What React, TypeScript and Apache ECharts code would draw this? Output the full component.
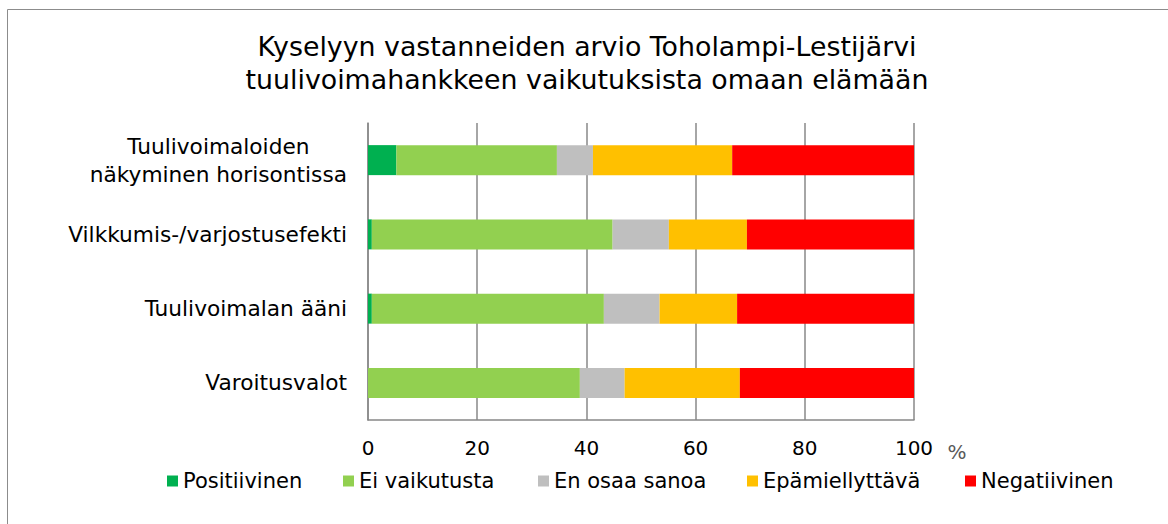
import React, { useEffect, useRef } from "react";
import * as echarts from "echarts";

const categories = [
  "Tuulivoimaloiden\nnäkyminen horisontissa",
  "Vilkkumis-/varjostusefekti",
  "Tuulivoimalan ääni",
  "Varoitusvalot",
];
const seriesNames = ["Positiivinen", "Ei vaikutusta", "En osaa sanoa", "Epämiellyttävä", "Negatiivinen"];
const positiivinen = [5.2, 0.7, 0.7, 0];
const eiVaikutusta = [29.4, 44.1, 42.5, 38.8];
const enOsaaSanoa = [6.6, 10.3, 10.2, 8.2];
const epamiellyttava = [25.5, 14.3, 14.2, 21.1];
const negatiivinen = [33.3, 30.6, 32.4, 31.9];
const xTicks = [0, 20, 40, 60, 80, 100];

const seriesValues = [positiivinen, eiVaikutusta, enOsaaSanoa, epamiellyttava, negatiivinen];
const colors = ["#00B050", "#92D050", "#BFBFBF", "#FFC000", "#FF0000"];
const legendLefts = [167, 343, 538, 747, 965];
const FONT = "DejaVu Sans";

export default function App() {
  const ref = useRef<HTMLDivElement>(null);
  useEffect(() => {
    if (!ref.current) return;
    const chart = echarts.init(ref.current, null, { renderer: "svg" });
    chart.setOption({
      animation: false,
      backgroundColor: "#ffffff",
      title: {
        text: "Kyselyyn vastanneiden arvio Toholampi-Lestijärvi\ntuulivoimahankkeen vaikutuksista omaan elämään",
        left: 587,
        textAlign: "center",
        top: 30,
        padding: 0,
        textStyle: {
          fontFamily: FONT,
          fontSize: 26.8,
          fontWeight: "normal",
          color: "#000",
          lineHeight: 33,
        },
      },
      legend: seriesNames.map((name, i) => ({
        data: [name],
        left: legendLefts[i],
        top: 469,
        padding: 0,
        icon: "rect",
        itemWidth: 11,
        itemHeight: 11,
        selectedMode: false,
        textStyle: { fontFamily: FONT, fontSize: 21, color: "#000", lineHeight: 24 },
      })),
      grid: { left: 368, right: 254, top: 123, bottom: 104, containLabel: false },
      xAxis: {
        type: "value",
        min: 0,
        max: 100,
        interval: 20,
        axisLine: { show: true, lineStyle: { color: "#888", width: 1.5 } },
        axisTick: { show: false },
        splitLine: { show: true, lineStyle: { color: "#888", width: 1.5 } },
        axisLabel: {
          margin: 18,
          fontFamily: FONT,
          fontSize: 20,
          color: "#000",
          formatter: (v: number) => (xTicks.includes(v) ? String(v) : ""),
        },
      },
      yAxis: {
        type: "category",
        data: categories,
        inverse: true,
        axisLine: { show: true, lineStyle: { color: "#888", width: 1.5 } },
        axisTick: { show: false },
        axisLabel: {
          margin: 21,
          formatter: (v: string) =>
            v
              .split("\n")
              .map((l) => `{c|${l}}`)
              .join("\n"),
          rich: {
            c: { align: "center", fontFamily: FONT, fontSize: 21.7, color: "#000", lineHeight: 28 },
          },
        },
      },
      series: seriesNames.map((name, i) => ({
        name,
        type: "bar",
        stack: "total",
        barWidth: 30,
        itemStyle: { color: colors[i] },
        data: seriesValues[i],
      })),
      graphic: [
        {
          type: "rect",
          shape: { x: 7.5, y: 9.5, width: 1300, height: 700 },
          style: { fill: "none", stroke: "#8c8c8c", lineWidth: 1 },
          silent: true,
        },
        {
          type: "text",
          x: 957,
          y: 452,
          style: {
            text: "%",
            fontFamily: FONT,
            fontSize: 20,
            fill: "#595959",
            align: "center",
            verticalAlign: "middle",
          },
          silent: true,
        },
      ],
    });
    return () => chart.dispose();
  }, []);
  return (
    <div
      ref={ref}
      style={{ position: "absolute", left: 0, top: 0, width: 1168, height: 524 }}
    />
  );
}
